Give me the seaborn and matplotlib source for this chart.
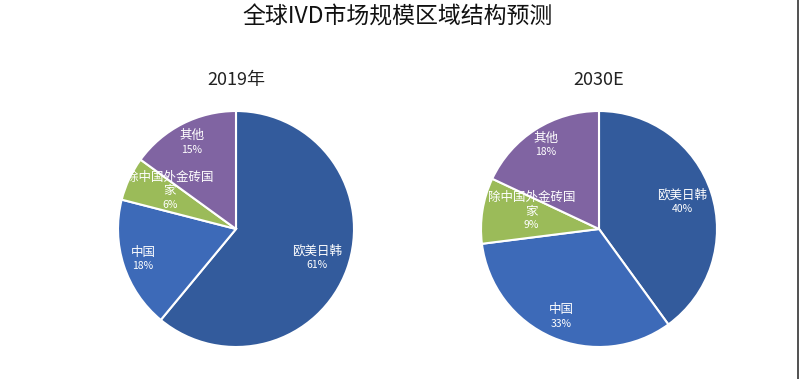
import numpy as np
import matplotlib
matplotlib.use("Agg")
import matplotlib.pyplot as plt
import seaborn as sns
from matplotlib.lines import Line2D

sns.set_theme(style="white")
plt.rcParams['font.family'] = ['Noto Sans CJK SC', 'DejaVu Sans']

# data
regions = ["欧美日韩", "中国", "除中国外金砖国\n家", "其他"]
share_2019 = [61, 18, 6, 15]
share_2030 = [40, 33, 9, 18]
years = ["2019年", "2030E"]

colors = ["#335b9c", "#3d6ab8", "#9bbb59", "#8064a2"]
# label distance (fraction of radius) per slice, as placed in the original
label_dist = [[0.73, 0.83, 0.62, 0.82],
              [0.74, 0.81, 0.58, 0.84]]

fig = plt.figure(figsize=(7.99, 3.79), dpi=100)
W, H = 799, 379
R = 118


def draw_pie(cx, cy, values, dists, subtitle):
    ax = fig.add_axes([(cx - R) / W, (H - cy - R) / H, 2 * R / W, 2 * R / H])
    wedges, _ = ax.pie(values, colors=colors, startangle=90, counterclock=False,
                       wedgeprops=dict(edgecolor="white", linewidth=1.5))
    ax.set_xlim(-1, 1)
    ax.set_ylim(-1, 1)
    for w, name, v, d in zip(wedges, regions, values, dists):
        mid = np.deg2rad((w.theta1 + w.theta2) / 2)
        x, y = d * np.cos(mid), d * np.sin(mid)
        ax.annotate(name, (x, y), xytext=(0, 0.5), textcoords="offset points",
                    ha="center", va="bottom", color="white", fontsize=9,
                    linespacing=1.05)
        ax.annotate(f"{v}%", (x, y), xytext=(0, -1.5), textcoords="offset points",
                    ha="center", va="top", color="white", fontsize=7.5)
    fig.text(cx / W, 1 - 80 / H, subtitle, ha="center", va="center",
             fontsize=13, color="#222222")


draw_pie(236, 229, share_2019, label_dist[0], years[0])
draw_pie(599, 229, share_2030, label_dist[1], years[1])

fig.text(398 / W, 1 - 17 / H, "全球IVD市场规模区域结构预测", ha="center", va="center",
         fontsize=16.5, color="#111111")

fig.add_artist(Line2D([797.5 / W, 797.5 / W], [0, 1], color="#333333", linewidth=1.2))

fig.savefig("out.png", dpi=100)
